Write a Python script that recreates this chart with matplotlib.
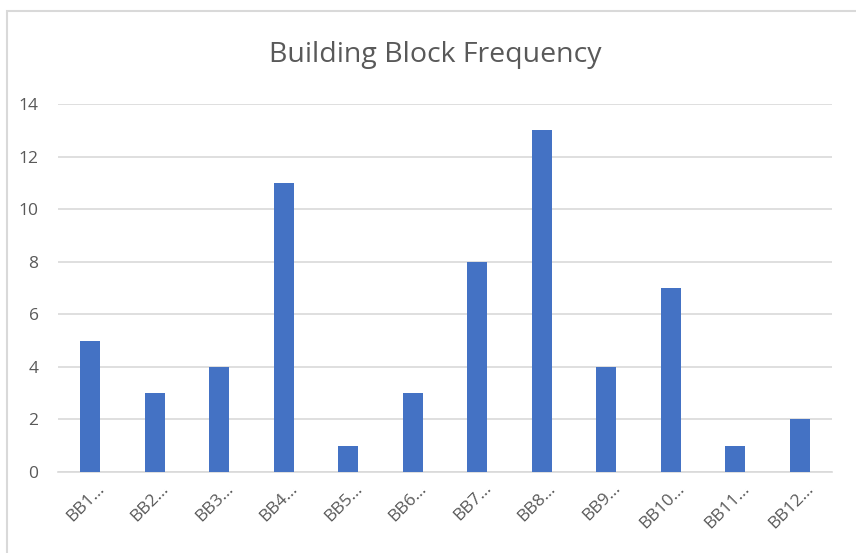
import matplotlib
matplotlib.use('Agg')
import matplotlib.pyplot as plt
import matplotlib.transforms as mtransforms
from matplotlib.patches import Rectangle

plt.rcParams['font.family'] = ['Open Sans', 'DejaVu Sans']

# data
categories = ['BB1…', 'BB2…', 'BB3…', 'BB4…', 'BB5…', 'BB6…',
              'BB7…', 'BB8…', 'BB9…', 'BB10…', 'BB11…', 'BB12…']
frequency = [5, 3, 4, 11, 1, 3, 8, 13, 4, 7, 1, 2]
yticks = [0, 2, 4, 6, 8, 10, 12, 14]

W, H = 856, 553
fig = plt.figure(figsize=(W / 100, H / 100), dpi=100)

# outer chart border (cut off at right and bottom like the screenshot)
fig.patches.append(Rectangle((7 / W, -0.1), 1.1, 1 - 11 / H + 0.1,
                             transform=fig.transFigure, fill=False,
                             edgecolor='#d9d9d9', linewidth=1.5))

ax = fig.add_axes([58 / W, 1 - 472 / H, (832 - 58) / W, (472 - 104) / H])
x = range(len(categories))
ax.bar(x, frequency, width=0.31, color='#4472c4', zorder=3)

ax.set_xlim(-0.5, len(categories) - 0.5)
ax.set_ylim(0, 14)
ax.set_yticks(yticks)
ax.set_yticklabels([str(t) for t in yticks])
ax.set_xticks(list(x))
ax.set_xticklabels(categories, rotation=45, ha='right', rotation_mode='anchor')

ax.grid(axis='y', color='#d9d9d9', linewidth=1.2, zorder=0)
for side in ['top', 'right', 'left']:
    ax.spines[side].set_visible(False)
ax.spines['bottom'].set_color('#d9d9d9')
ax.spines['bottom'].set_linewidth(1.2)
ax.tick_params(axis='both', length=0, colors='#595959', labelsize=12.5)
ax.tick_params(axis='y', pad=14)
ax.tick_params(axis='x', pad=6)

# nudge rotated labels a bit to the right, like Excel does
shift = mtransforms.ScaledTranslation(6 / 100, 0, fig.dpi_scale_trans)
for lab in ax.get_xticklabels():
    lab.set_transform(lab.get_transform() + shift)

fig.text(435 / W, 1 - 55 / H, 'Building Block Frequency', ha='center', va='center',
         fontsize=20.5, color='#595959')

plt.savefig('out.png', dpi=100)
